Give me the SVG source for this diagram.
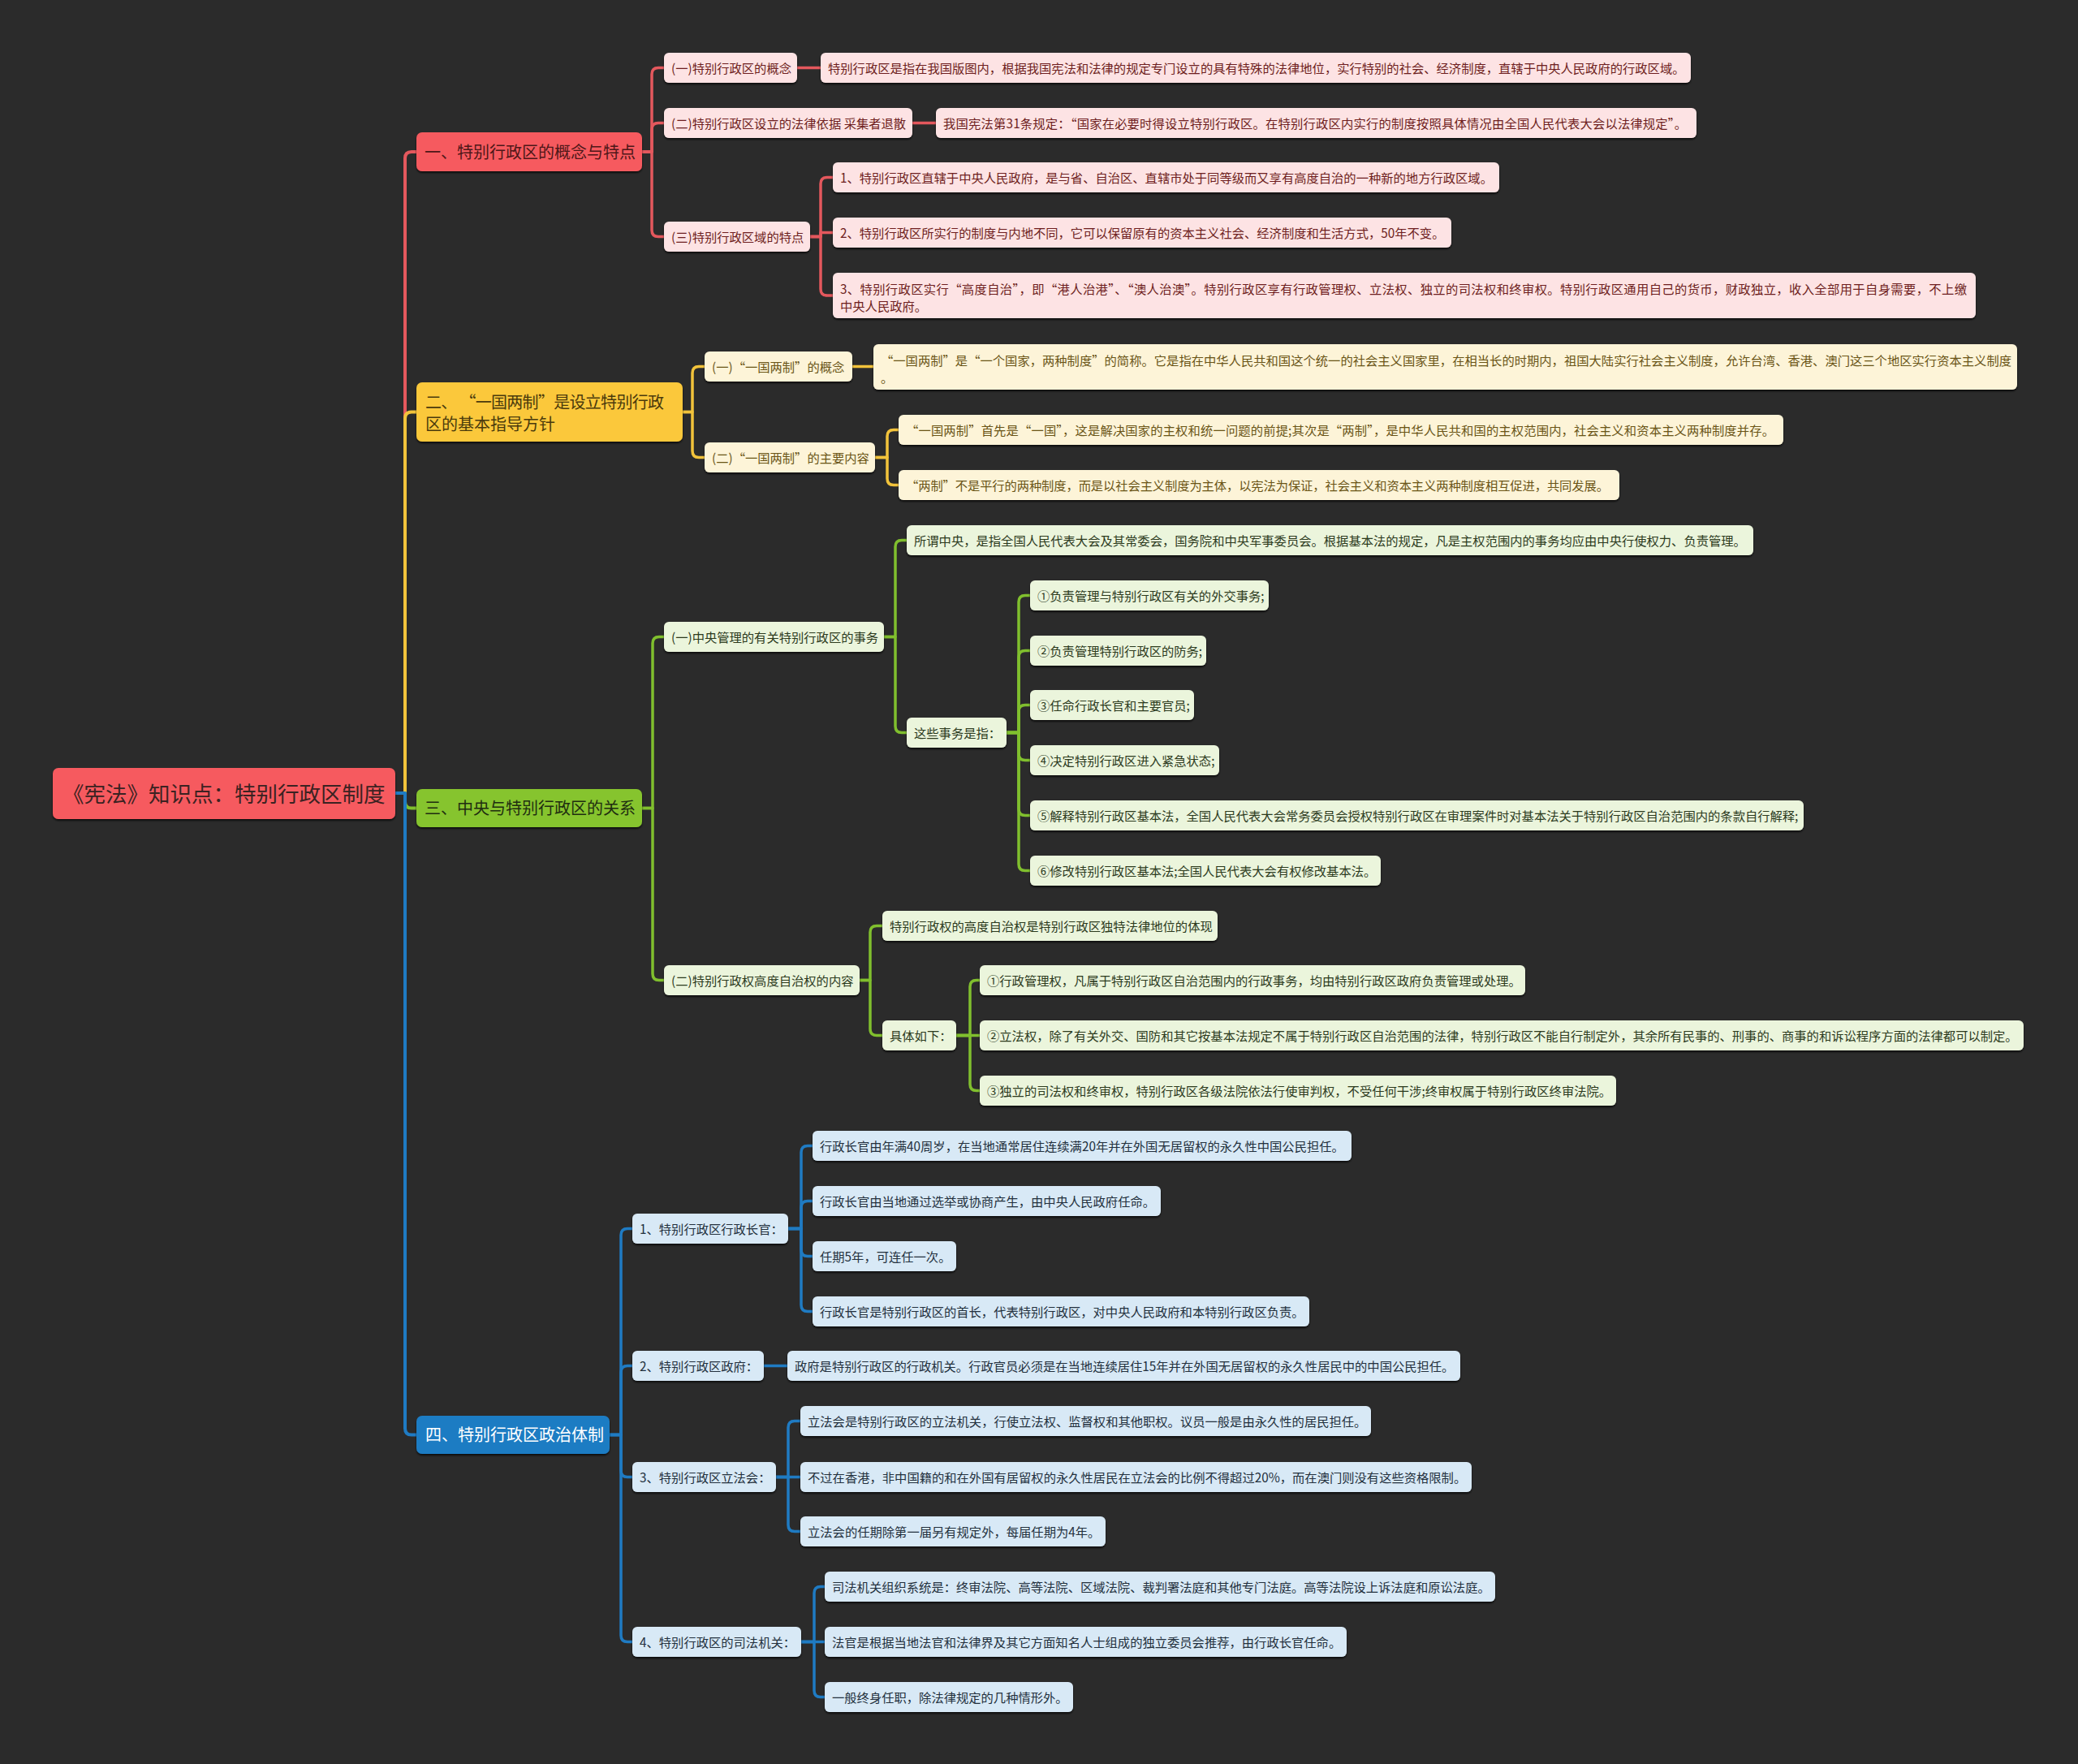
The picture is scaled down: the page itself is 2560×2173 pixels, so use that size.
<svg xmlns="http://www.w3.org/2000/svg" width="2560" height="2173" viewBox="0 0 2560 2173">
<defs>
<filter id="sh" x="-5%" y="-20%" width="110%" height="150%">
<feDropShadow dx="0" dy="2" stdDeviation="1" flood-color="#000" flood-opacity="0.7"/>
</filter>
<style>
text{font-family:"Noto Sans CJK SC","Noto Sans",sans-serif;font-size:15.3px;white-space:pre}
.c{fill:none;stroke-linecap:round;stroke-linejoin:round;stroke-width:3.5}
.cr{stroke:#e4585d}.cy{stroke:#f2c33b}.cg{stroke:#80bf2e}.cb{stroke:#1f7bc3}
.trunk{stroke-width:4}
rect{filter:url(#sh)}
.root rect{fill:#f65a5e}.root text{fill:#3b2222;font-size:26.5px}
.l1 text{font-size:20px}
.r1 rect{fill:#f65a5e}.r1 text{fill:#4e1718}
.y1 rect{fill:#fbc83b}.y1 text{fill:#4a3a0c}
.g1 rect{fill:#86c42f}.g1 text{fill:#1f2e10}
.b1 rect{fill:#1f7cc3}.b1 text{fill:#ffffff}
.r2 rect{fill:#fde3e4}.r2 text{fill:#6e1e20}
.y2 rect{fill:#fdf4d8}.y2 text{fill:#6a5416}
.g2 rect{fill:#ebf5dc}.g2 text{fill:#2c3a1d}
.b2 rect{fill:#d8e9f6}.b2 text{fill:#23303d}
</style>
</defs>
<rect x="0" y="0" width="2560" height="2173" fill="#2b2b2b" style="filter:none"/>

<g id="connectors">
<path class="c cr trunk" d="M487 977 H499 V195 Q499 187 507 187 H513"/>
<path class="c cy trunk" d="M487 977 H499 V515.5 Q499 507.5 507 507.5 H513"/>
<path class="c cg trunk" d="M487 977 H499 V987.5 Q499 995.5 507 995.5 H513"/>
<path class="c cb trunk" d="M487 977 H499 V1759.5 Q499 1767.5 507 1767.5 H513"/>

<path class="c cr" d="M791 187 H803 V91.5 Q803 83.5 811 83.5 H818"/>
<path class="c cr" d="M791 187 H803 V159.5 Q803 151.5 811 151.5 H818"/>
<path class="c cr" d="M791 187 H803 V283.5 Q803 291.5 811 291.5 H818"/>
<path class="c cr" d="M982 83.5 H1011"/>
<path class="c cr" d="M1124 151.5 H1153"/>
<path class="c cr" d="M998 291.5 H1011 V226.5 Q1011 218.5 1019 218.5 H1026"/>
<path class="c cr" d="M998 291.5 H1011 V286.5 H1026"/>
<path class="c cr" d="M998 291.5 H1011 V356 Q1011 364 1019 364 H1026"/>

<path class="c cy" d="M841 507.5 H853 V459.5 Q853 451.5 861 451.5 H868"/>
<path class="c cy" d="M841 507.5 H853 V555.5 Q853 563.5 861 563.5 H868"/>
<path class="c cy" d="M1050 451.5 H1076"/>
<path class="c cy" d="M1078 563.5 H1093 V537.5 Q1093 529.5 1101 529.5 H1107"/>
<path class="c cy" d="M1078 563.5 H1093 V589.5 Q1093 597.5 1101 597.5 H1107"/>

<path class="c cg" d="M791 995.5 H804 V792.5 Q804 784.5 812 784.5 H818"/>
<path class="c cg" d="M791 995.5 H804 V1199.5 Q804 1207.5 812 1207.5 H818"/>
<path class="c cg" d="M1089 784.5 H1103 V673.5 Q1103 665.5 1111 665.5 H1117"/>
<path class="c cg" d="M1089 784.5 H1103 V894.5 Q1103 902.5 1111 902.5 H1117"/>
<path class="c cg" d="M1240 902.5 H1255 V741.5 Q1255 733.5 1263 733.5 H1269"/>
<path class="c cg" d="M1240 902.5 H1255 V809.5 Q1255 801.5 1263 801.5 H1269"/>
<path class="c cg" d="M1240 902.5 H1255 V876.5 Q1255 868.5 1263 868.5 H1269"/>
<path class="c cg" d="M1240 902.5 H1255 V928.5 Q1255 936.5 1263 936.5 H1269"/>
<path class="c cg" d="M1240 902.5 H1255 V996.5 Q1255 1004.5 1263 1004.5 H1269"/>
<path class="c cg" d="M1240 902.5 H1255 V1064.5 Q1255 1072.5 1263 1072.5 H1269"/>
<path class="c cg" d="M1059 1207.5 H1072 V1148.5 Q1072 1140.5 1080 1140.5 H1087"/>
<path class="c cg" d="M1059 1207.5 H1072 V1267.5 Q1072 1275.5 1080 1275.5 H1087"/>
<path class="c cg" d="M1178 1275.5 H1195 V1215.5 Q1195 1207.5 1203 1207.5 H1207"/>
<path class="c cg" d="M1178 1275.5 H1207"/>
<path class="c cg" d="M1178 1275.5 H1195 V1335.5 Q1195 1343.5 1203 1343.5 H1207"/>

<path class="c cb" d="M751 1767.5 H765 V1521.5 Q765 1513.5 773 1513.5 H779"/>
<path class="c cb" d="M751 1767.5 H765 V1690.5 Q765 1682.5 773 1682.5 H779"/>
<path class="c cb" d="M751 1767.5 H765 V1811.5 Q765 1819.5 773 1819.5 H779"/>
<path class="c cb" d="M751 1767.5 H765 V2014.5 Q765 2022.5 773 2022.5 H779"/>
<path class="c cb" d="M971 1513.5 H987 V1419.5 Q987 1411.5 995 1411.5 H1001"/>
<path class="c cb" d="M971 1513.5 H987 V1487.5 Q987 1479.5 995 1479.5 H1001"/>
<path class="c cb" d="M971 1513.5 H987 V1539.5 Q987 1547.5 995 1547.5 H1001"/>
<path class="c cb" d="M971 1513.5 H987 V1607.5 Q987 1615.5 995 1615.5 H1001"/>
<path class="c cb" d="M941 1682.5 H970"/>
<path class="c cb" d="M956 1819.5 H971 V1758.5 Q971 1750.5 979 1750.5 H986"/>
<path class="c cb" d="M956 1819.5 H986"/>
<path class="c cb" d="M956 1819.5 H971 V1878.5 Q971 1886.5 979 1886.5 H986"/>
<path class="c cb" d="M987 2022.5 H1003 V1962.5 Q1003 1954.5 1011 1954.5 H1016"/>
<path class="c cb" d="M987 2022.5 H1016"/>
<path class="c cb" d="M987 2022.5 H1003 V2082.5 Q1003 2090.5 1011 2090.5 H1016"/>
</g>

<g id="root" class="root"><rect x="65" y="946" width="422" height="63" rx="7"/><text x="77" y="987.5">《宪法》知识点：特别行政区制度</text></g>

<g id="n1" class="l1 r1"><rect x="513" y="163" width="278" height="48" rx="7"/><text x="523" y="194.5">一、特别行政区的概念与特点</text></g>
<g id="n2" class="l1 y1"><rect x="513" y="471" width="328" height="73" rx="7"/><text x="524" y="502.5" textLength="294" lengthAdjust="spacing">二、 “一国两制”是设立特别行政</text><text x="524" y="529.5">区的基本指导方针</text></g>
<g id="n3" class="l1 g1"><rect x="513" y="972" width="278" height="47" rx="7"/><text x="523" y="1003">三、中央与特别行政区的关系</text></g>
<g id="n4" class="l1 b1"><rect x="513" y="1744" width="238" height="47" rx="7"/><text x="524" y="1775">四、特别行政区政治体制</text></g>

<g id="n1-1" class="r2"><rect x="818" y="65" width="164" height="37" rx="6"/><text x="827" y="89.5">(一)特别行政区的概念</text></g>
<g id="n1-1-1" class="r2"><rect x="1011" y="65" width="1072" height="37" rx="6"/><text x="1020" y="89.5">特别行政区是指在我国版图内，根据我国宪法和法律的规定专门设立的具有特殊的法律地位，实行特别的社会、经济制度，直辖于中央人民政府的行政区域。</text></g>
<g id="n1-2" class="r2"><rect x="818" y="133" width="306" height="37" rx="6"/><text x="827" y="157.5">(二)特别行政区设立的法律依据 采集者退散</text></g>
<g id="n1-2-1" class="r2"><rect x="1153" y="133" width="937" height="37" rx="6"/><text x="1162" y="157.5" textLength="916" lengthAdjust="spacing">我国宪法第31条规定：“国家在必要时得设立特别行政区。在特别行政区内实行的制度按照具体情况由全国人民代表大会以法律规定”。</text></g>
<g id="n1-3" class="r2"><rect x="818" y="273" width="180" height="37" rx="6"/><text x="827" y="297.5">(三)特别行政区域的特点</text></g>
<g id="n1-3-1" class="r2"><rect x="1026" y="200" width="821" height="37" rx="6"/><text x="1035" y="224.5">1、特别行政区直辖于中央人民政府，是与省、自治区、直辖市处于同等级而又享有高度自治的一种新的地方行政区域。</text></g>
<g id="n1-3-2" class="r2"><rect x="1026" y="268" width="762" height="37" rx="6"/><text x="1035" y="292.5">2、特别行政区所实行的制度与内地不同，它可以保留原有的资本主义社会、经济制度和生活方式，50年不变。</text></g>
<g id="n1-3-3" class="r2"><rect x="1026" y="336" width="1408" height="56" rx="6"/><text x="1035" y="362" textLength="1388" lengthAdjust="spacing">3、特别行政区实行“高度自治”，即“港人治港”、“澳人治澳”。特别行政区享有行政管理权、立法权、独立的司法权和终审权。特别行政区通用自己的货币，财政独立，收入全部用于自身需要，不上缴</text><text x="1035" y="383">中央人民政府。</text></g>

<g id="n2-1" class="y2"><rect x="868" y="433" width="182" height="37" rx="6"/><text x="877" y="457.5">(一)“一国两制”的概念</text></g>
<g id="n2-1-1" class="y2"><rect x="1076" y="424" width="1409" height="56" rx="6"/><text x="1085" y="450" textLength="1393" lengthAdjust="spacing">“一国两制”是“一个国家，两种制度”的简称。它是指在中华人民共和国这个统一的社会主义国家里，在相当长的时期内，祖国大陆实行社会主义制度，允许台湾、香港、澳门这三个地区实行资本主义制度</text><text x="1085" y="471">。</text></g>
<g id="n2-2" class="y2"><rect x="868" y="545" width="210" height="37" rx="6"/><text x="877" y="569.5">(二)“一国两制”的主要内容</text></g>
<g id="n2-2-1" class="y2"><rect x="1107" y="511" width="1090" height="37" rx="6"/><text x="1116" y="535.5" textLength="1070" lengthAdjust="spacing">“一国两制”首先是“一国”，这是解决国家的主权和统一问题的前提;其次是“两制”，是中华人民共和国的主权范围内，社会主义和资本主义两种制度并存。</text></g>
<g id="n2-2-2" class="y2"><rect x="1107" y="579" width="888" height="37" rx="6"/><text x="1116" y="603.5" textLength="866" lengthAdjust="spacing">“两制”不是平行的两种制度，而是以社会主义制度为主体，以宪法为保证，社会主义和资本主义两种制度相互促进，共同发展。</text></g>

<g id="n3-1" class="g2"><rect x="818" y="766" width="271" height="37" rx="6"/><text x="827" y="790.5">(一)中央管理的有关特别行政区的事务</text></g>
<g id="n3-1-1" class="g2"><rect x="1117" y="647" width="1043" height="37" rx="6"/><text x="1126" y="671.5">所谓中央，是指全国人民代表大会及其常委会，国务院和中央军事委员会。根据基本法的规定，凡是主权范围内的事务均应由中央行使权力、负责管理。</text></g>
<g id="n3-1-2" class="g2"><rect x="1117" y="884" width="123" height="37" rx="6"/><text x="1126" y="908.5">这些事务是指：</text></g>
<g id="n3-1-2-1" class="g2"><rect x="1269" y="715" width="294" height="37" rx="6"/><text x="1278" y="739.5">①负责管理与特别行政区有关的外交事务;</text></g>
<g id="n3-1-2-2" class="g2"><rect x="1269" y="783" width="217" height="37" rx="6"/><text x="1278" y="807.5">②负责管理特别行政区的防务;</text></g>
<g id="n3-1-2-3" class="g2"><rect x="1269" y="850" width="202" height="37" rx="6"/><text x="1278" y="874.5">③任命行政长官和主要官员;</text></g>
<g id="n3-1-2-4" class="g2"><rect x="1269" y="918" width="233" height="37" rx="6"/><text x="1278" y="942.5">④决定特别行政区进入紧急状态;</text></g>
<g id="n3-1-2-5" class="g2"><rect x="1269" y="986" width="953" height="37" rx="6"/><text x="1278" y="1010.5">⑤解释特别行政区基本法，全国人民代表大会常务委员会授权特别行政区在审理案件时对基本法关于特别行政区自治范围内的条款自行解释;</text></g>
<g id="n3-1-2-6" class="g2"><rect x="1269" y="1054" width="432" height="37" rx="6"/><text x="1278" y="1078.5">⑥修改特别行政区基本法;全国人民代表大会有权修改基本法。</text></g>
<g id="n3-2" class="g2"><rect x="818" y="1189" width="241" height="37" rx="6"/><text x="827" y="1213.5">(二)特别行政权高度自治权的内容</text></g>
<g id="n3-2-1" class="g2"><rect x="1087" y="1122" width="413" height="37" rx="6"/><text x="1096" y="1146.5">特别行政权的高度自治权是特别行政区独特法律地位的体现</text></g>
<g id="n3-2-2" class="g2"><rect x="1087" y="1257" width="91" height="37" rx="6"/><text x="1096" y="1281.5">具体如下：</text></g>
<g id="n3-2-2-1" class="g2"><rect x="1207" y="1189" width="672" height="37" rx="6"/><text x="1216" y="1213.5">①行政管理权，凡属于特别行政区自治范围内的行政事务，均由特别行政区政府负责管理或处理。</text></g>
<g id="n3-2-2-2" class="g2"><rect x="1207" y="1257" width="1286" height="37" rx="6"/><text x="1216" y="1281.5">②立法权，除了有关外交、国防和其它按基本法规定不属于特别行政区自治范围的法律，特别行政区不能自行制定外，其余所有民事的、刑事的、商事的和诉讼程序方面的法律都可以制定。</text></g>
<g id="n3-2-2-3" class="g2"><rect x="1207" y="1325" width="784" height="37" rx="6"/><text x="1216" y="1349.5">③独立的司法权和终审权，特别行政区各级法院依法行使审判权，不受任何干涉;终审权属于特别行政区终审法院。</text></g>

<g id="n4-1" class="b2"><rect x="779" y="1495" width="192" height="37" rx="6"/><text x="788" y="1519.5">1、特别行政区行政长官：</text></g>
<g id="n4-1-1" class="b2"><rect x="1001" y="1393" width="664" height="37" rx="6"/><text x="1010" y="1417.5">行政长官由年满40周岁，在当地通常居住连续满20年并在外国无居留权的永久性中国公民担任。</text></g>
<g id="n4-1-2" class="b2"><rect x="1001" y="1461" width="429" height="37" rx="6"/><text x="1010" y="1485.5">行政长官由当地通过选举或协商产生，由中央人民政府任命。</text></g>
<g id="n4-1-3" class="b2"><rect x="1001" y="1529" width="177" height="37" rx="6"/><text x="1010" y="1553.5">任期5年，可连任一次。</text></g>
<g id="n4-1-4" class="b2"><rect x="1001" y="1597" width="612" height="37" rx="6"/><text x="1010" y="1621.5">行政长官是特别行政区的首长，代表特别行政区，对中央人民政府和本特别行政区负责。</text></g>
<g id="n4-2" class="b2"><rect x="779" y="1664" width="162" height="37" rx="6"/><text x="788" y="1688.5">2、特别行政区政府：</text></g>
<g id="n4-2-1" class="b2"><rect x="970" y="1664" width="829" height="37" rx="6"/><text x="979" y="1688.5">政府是特别行政区的行政机关。行政官员必须是在当地连续居住15年并在外国无居留权的永久性居民中的中国公民担任。</text></g>
<g id="n4-3" class="b2"><rect x="779" y="1801" width="177" height="37" rx="6"/><text x="788" y="1825.5">3、特别行政区立法会：</text></g>
<g id="n4-3-1" class="b2"><rect x="986" y="1732" width="703" height="37" rx="6"/><text x="995" y="1756.5">立法会是特别行政区的立法机关，行使立法权、监督权和其他职权。议员一般是由永久性的居民担任。</text></g>
<g id="n4-3-2" class="b2"><rect x="986" y="1801" width="827" height="37" rx="6"/><text x="995" y="1825.5">不过在香港，非中国籍的和在外国有居留权的永久性居民在立法会的比例不得超过20%，而在澳门则没有这些资格限制。</text></g>
<g id="n4-3-3" class="b2"><rect x="986" y="1868" width="376" height="37" rx="6"/><text x="995" y="1892.5">立法会的任期除第一届另有规定外，每届任期为4年。</text></g>
<g id="n4-4" class="b2"><rect x="779" y="2004" width="208" height="37" rx="6"/><text x="788" y="2028.5">4、特别行政区的司法机关：</text></g>
<g id="n4-4-1" class="b2"><rect x="1016" y="1936" width="826" height="37" rx="6"/><text x="1025" y="1960.5">司法机关组织系统是：终审法院、高等法院、区域法院、裁判署法庭和其他专门法庭。高等法院设上诉法庭和原讼法庭。</text></g>
<g id="n4-4-2" class="b2"><rect x="1016" y="2004" width="643" height="37" rx="6"/><text x="1025" y="2028.5">法官是根据当地法官和法律界及其它方面知名人士组成的独立委员会推荐，由行政长官任命。</text></g>
<g id="n4-4-3" class="b2"><rect x="1016" y="2072" width="306" height="37" rx="6"/><text x="1025" y="2096.5">一般终身任职，除法律规定的几种情形外。</text></g>
</svg>
